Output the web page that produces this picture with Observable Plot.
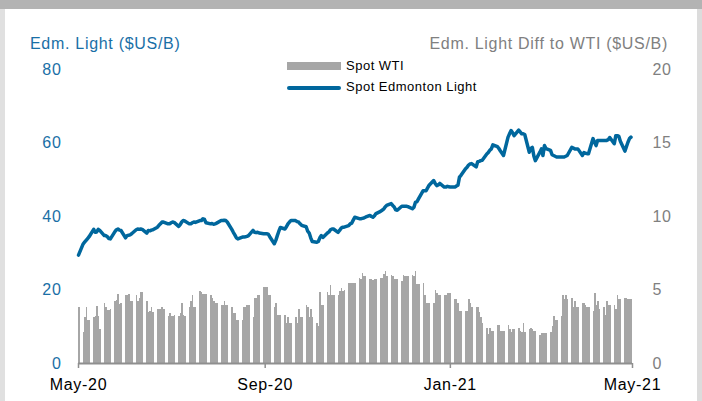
<!DOCTYPE html>
<html>
<head>
<meta charset="utf-8">
<script src="https://cdn.jsdelivr.net/npm/d3@7"></script>
<script src="https://cdn.jsdelivr.net/npm/@observablehq/plot@0.6"></script>
<style>
  html, body { margin: 0; padding: 0; background: #fff; }
  #page { position: relative; width: 702px; height: 401px; overflow: hidden; background: #fff;
          font-family: "Liberation Sans", Arial, sans-serif; }
  #chart { position: absolute; left: 0; top: 0; }
  #chart svg text { letter-spacing: 0.7px; }
  .abs { position: absolute; white-space: nowrap; }
</style>
</head>
<body>
<div id="page">
  <div class="abs" style="left:0;top:0;width:702px;height:9px;background:#b3b3b3"></div>
  <div class="abs" style="left:0;top:9px;width:5px;height:392px;background:#e0e0e0"></div>
  <div class="abs" style="right:0;top:9px;width:5px;height:392px;background:#dcdcdc"></div>
  <div id="chart"></div>
  <div class="abs" style="left:30px;top:35px;font-size:16px;line-height:18px;letter-spacing:0.7px;color:#1a6fa6">Edm. Light ($US/B)</div>
  <div class="abs" style="right:34px;top:35px;font-size:16px;line-height:18px;letter-spacing:0.7px;color:#808080">Edm. Light Diff to WTI ($US/B)</div>
  <div class="abs" style="left:287px;top:62px;width:54px;height:8px;background:#a6a6a6"></div>
  <div class="abs" style="left:346px;top:58px;font-size:13px;line-height:16px;letter-spacing:0.5px;color:#000">Spot WTI</div>
  <div class="abs" style="left:287px;top:86px;width:54px;height:3.5px;border-radius:2px;background:#00679d"></div>
  <div class="abs" style="left:346px;top:79px;font-size:13px;line-height:16px;letter-spacing:0.5px;color:#000">Spot Edmonton Light</div>
</div>
<script>
// Edmonton Light differential to WTI ($US/B), one value per business day (May 1 2020 - Apr 30 2021)
const diffToWti = [3.8,
  2.1,3.1,3.8,2.9,2.9,  3.1,3.2,3.9,3.2,2.3,  4.1,3.8,3.6,3.6,3.7,  4.2,4.3,4.7,4.0,4.1,
  4.6,4.6,4.7,4.2,4.2,  4.6,4.2,4.4,4.85,4.8, 4.2,3.45,3.55,3.8,3.45, 3.65,3.65,3.65,3.8,3.7,
  3.2,3.4,3.2,3.2,3.25, 3.2,3.4,4.1,3.25,3.2, 3.8,4.2,4.6,3.8,3.8,  4.9,4.8,4.7,4.7,4.7,
  4.6,4.4,4.2,4.1,4.1,  3.95,3.95,4.2,3.95,3.95, 3.8,3.4,3.4,2.9,2.9, 2.9,3.8,3.8,3.95,3.95,
  3.1,4.45,4.45,4.6,4.6, 5.15,5.15,5.15,4.6,4.6, 3.8,4.1,3.25,3.25,3.25, 3.25,2.75,3.1,2.75,2.75,
  3.1,2.75,3.65,3.1,3.1, 3.95,3.8,3.1,3.65,3.1, 2.75,2.55,4.85,3.95,3.95, 4.85,4.6,5.3,4.6,4.6,
  4.6,4.9,5.1,4.9,5.0,  5.45,5.45,5.45,5.45,5.45, 5.8,5.7,6.1,5.95,5.95, 5.7,5.7,5.65,5.7,5.7,
  5.8,5.8,6.05,6.25,5.95, 6.0,5.9,5.7,5.7,5.7, 5.6,6.0,5.9,5.9,5.9, 6.0,5.9,6.25,5.4,5.4,
  5.45,4.6,4.1,4.1,4.1, 4.1,5.0,4.75,4.6,4.6, 4.6,4.6,4.75,4.75,4.75, 4.35,4.35,4.1,3.55,3.55,
  3.55,3.55,4.35,4.1,3.8, 3.8,3.8,3.45,3.1,2.75, 2.4,2.0,2.4,2.2,2.2, 2.6,2.6,2.2,2.2,2.2,
  2.6,2.3,2.1,2.3,2.3,  2.4,2.2,2.1,2.7,2.1,  2.3,2.4,2.3,2.2,2.2,  1.9,2.05,2.05,2.05,2.05,
  2.1,2.55,3.2,2.9,2.9, 3.2,4.6,4.35,4.6,4.35, 4.45,3.8,4.25,3.8,3.8, 4.1,4.1,3.95,3.8,3.8,
  3.55,4.75,3.95,4.2,3.65, 3.8,3.25,4.2,3.95,3.95, 3.95,3.65,4.6,4.35,4.35, 4.45,4.45,4.35,4.35,4.35
];
// Spot Edmonton Light price ($US/B), same business days
const edmLight = [29.5,
  32.5,33,33.5,34,34.5,  36.5,35.7,35.8,36.5,36.2,  34.8,34.8,34.5,34.0,33.9,  35.9,36.4,36.6,36.3,36.2,
  34.2,34.8,34.9,35.0,35.3,  36.4,36.6,36.5,36.6,36.5,  35.5,36.2,36.1,36.3,36.4,  37.1,37.6,38.0,38.5,38.5,
  38.0,38.0,38.3,38.5,38.4,  37.3,37.8,38.5,38.9,38.8,  38.0,38.0,38.3,38.5,38.4,  38.9,38.9,39.4,39.2,38.3,
  38.0,38.1,37.9,38.0,38.2,  38.9,38.9,39.0,38.9,38.5,  36.5,35.7,35.0,34.2,33.9,  34.4,34.4,34.5,34.6,34.8,
  36.2,35.7,35.6,35.7,35.5,  35.3,35.3,35.3,35.2,34.5,  32.6,33.5,34.8,36.0,37.0,  36.6,37.2,38.0,38.5,38.9,
  38.9,38.6,38.5,38.0,37.6,  37.2,36.0,35.5,34.2,33.2,  33.0,33.2,34.2,34.8,34.3,  35.5,35.8,36.4,36.6,36.6,
  35.7,36.2,36.8,37.1,37.1,  37.5,38.0,38.2,39.0,39.8,  39.4,39.4,39.5,39.6,39.8,  40.3,40.0,39.8,40.2,40.8,
  41.4,41.7,42.0,42.6,43.0,  43.5,43.0,42.6,41.8,41.7,  42.8,42.8,42.8,42.8,42.7,  42.1,42.5,43.9,44.0,44.8,
  47.0,47.0,47.0,47.8,48.5,  49.8,49.0,48.4,48.6,49.0,  48.0,48.0,48.2,48.1,48.0,  48.0,48.3,48.5,50.7,51.2,
  53.0,53.4,54.0,54.3,54.4,  53.5,54.9,55.0,55.2,55.3,  57.0,57.4,58.0,58.4,59.5,  59.0,58.5,57.8,57.2,56.6,
  61.6,62.5,63.4,62.8,62.0,  63.5,63.0,62.5,62.5,62.3,  57.5,58.5,58.8,56.5,55.2,  57.5,58.4,56.6,59.3,58.5,
  58.0,56.8,56.6,56.4,56.2,  56.2,56.2,56.2,56.4,56.6,  58.8,58.6,58.4,58.4,58.4,  56.6,57.4,57.2,57.1,57.1,
  61.2,60.2,59.3,60.7,60.7,  60.7,60.7,60.7,60.9,61.5,  59.8,62.0,62.0,61.8,60.5,  57.8,59.0,60.2,61.2,61.6
];
const leftTicks = [0, 20, 40, 60, 80];
const xTickDates = ["2020-05-01", "2020-09-01", "2021-01-01", "2021-05-01"];
const xStart = "2020-05-01", xEnd = "2021-05-01";
const axisRatio = 4; // left axis (0-80) / right axis (0-20)

const start = new Date(xStart + "T00:00:00Z"), end = new Date(xEnd + "T00:00:00Z");
const dates = d3.utcDay.range(start, end).filter(d => d.getUTCDay() !== 0 && d.getUTCDay() !== 6);
const rows = dates.map((d, i) => ({date: d, next: d3.utcDay.offset(d, 1), diff: diffToWti[i], price: edmLight[i]}));
const xTicks = xTickDates.map(s => new Date(s + "T00:00:00Z"));

const chart = Plot.plot({
  width: 702, height: 401,
  marginLeft: 78, marginRight: 70, marginTop: 69, marginBottom: 38,
  style: {fontFamily: "Liberation Sans, Arial, sans-serif", fontSize: "16px", background: "transparent", overflow: "visible"},
  x: {type: "utc", domain: [start, end]},
  y: {domain: [0, 80]},
  marks: [
    Plot.rectY(rows, {x1: "date", x2: "next", y: d => d.diff * axisRatio, fill: "#a6a6a6", inset: 0, shapeRendering: "crispEdges"}),
    Plot.ruleY([0], {stroke: "#8f8f8f", strokeWidth: 2}),
    Plot.line(rows, {x: "date", y: "price", stroke: "#00679d", strokeWidth: 3.5, strokeLinejoin: "round"}),
    Plot.axisY(leftTicks, {anchor: "left", tickSize: 0, tickPadding: 17, fill: "#1a6fa6", label: null}),
    Plot.axisY(leftTicks, {anchor: "right", tickSize: 0, tickPadding: 20, fill: "#808080", tickFormat: d => d / axisRatio, label: null}),
    Plot.axisX(xTicks, {anchor: "bottom", tickSize: 5, tickPadding: 10, stroke: "#8f8f8f", strokeWidth: 1.5, fill: "#000", tickFormat: d3.utcFormat("%b-%y"), label: null})
  ]
});
document.getElementById("chart").appendChild(chart);
</script>
</body>
</html>
